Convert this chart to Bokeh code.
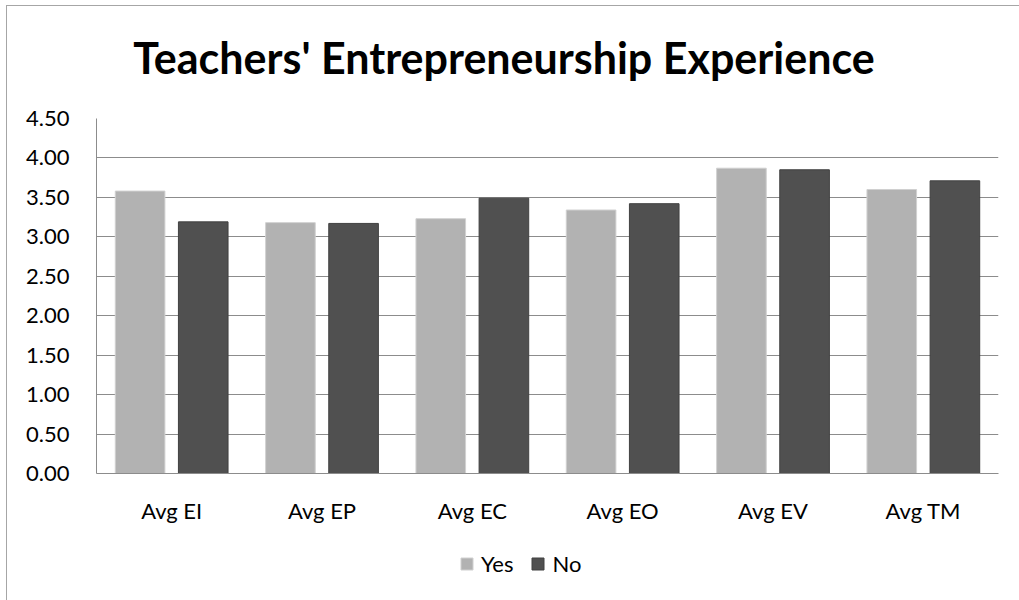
from bokeh.plotting import figure
from bokeh.layouts import column
from bokeh.models import (ColumnDataSource, FactorRange, FixedTicker, NumeralTickFormatter,
                          Legend, LegendItem, Range1d, Label)
from bokeh.transform import dodge
from bokeh.embed import file_html
from bokeh.resources import INLINE

title_text = "Teachers' Entrepreneurship Experience"
categories = ["Avg EI", "Avg EP", "Avg EC", "Avg EO", "Avg EV", "Avg TM"]
yes_values = [3.58, 3.18, 3.23, 3.34, 3.87, 3.60]
no_values = [3.19, 3.17, 3.49, 3.42, 3.85, 3.71]
y_ticks = [0.0, 0.5, 1.0, 1.5, 2.0, 2.5, 3.0, 3.5, 4.0, 4.5]
series_names = ["Yes", "No"]

source = ColumnDataSource(dict(cat=categories, yes=yes_values, no=no_values))

FONT = "Lato"
YES_FILL, YES_LINE = "#b2b2b2", "#d0d0d0"
NO_FILL, NO_LINE = "#505050", "#404040"
W = 1012  # layout is shifted by a 7px left / 6px top margin (chart border)


def bare(fig):
    fig.xgrid.grid_line_color = None
    fig.ygrid.grid_line_color = None
    fig.outline_line_color = None
    fig.border_fill_color = "white"
    fig.background_fill_color = "white"


# ---- title strip (pixel-like coordinate space) ----
tt = figure(width=W, height=94, x_range=Range1d(96, 998), y_range=Range1d(100, 6),
            output_backend="svg", toolbar_location=None,
            min_border_left=89, min_border_right=21, min_border_top=0, min_border_bottom=0,
            x_axis_location=None, y_axis_location=None)
bare(tt)
tt.add_layout(Label(x=503.5, y=57, text=title_text, text_align="center", text_baseline="alphabetic",
                    text_font=FONT, text_font_style="bold", text_font_size="43px", text_color="#000000"))

# ---- main chart ----
p = figure(
    x_range=FactorRange(*categories), y_range=(0, 4.5),
    width=W, height=440, output_backend="svg", toolbar_location=None,
    min_border_left=89, min_border_right=21, min_border_top=18, min_border_bottom=67,
)

p.vbar(x=dodge("cat", -0.21, range=p.x_range), top="yes", width=0.33, source=source,
       fill_color=YES_FILL, line_color=YES_LINE, line_width=1)
p.vbar(x=dodge("cat", 0.21, range=p.x_range), top="no", width=0.33, source=source,
       fill_color=NO_FILL, line_color=NO_LINE, line_width=1)

p.outline_line_color = None
p.background_fill_color = "white"
p.border_fill_color = "white"
p.xgrid.grid_line_color = None
p.ygrid.grid_line_color = "#8c8c8c"
p.ygrid.grid_line_width = 1

p.yaxis.ticker = FixedTicker(ticks=y_ticks)
p.yaxis.formatter = NumeralTickFormatter(format="0.00")
for ax in (p.xaxis, p.yaxis):
    ax.axis_line_color = "#8c8c8c"
    ax.major_tick_line_color = None
    ax.minor_tick_line_color = None
    ax.major_label_text_font = FONT
    ax.major_label_text_font_size = "22px"
    ax.major_label_text_color = "#000000"
p.yaxis.major_label_standoff = 21
p.xaxis.major_label_standoff = 17

# ---- legend strip (same series drawn out of view, so only the legend shows) ----
lg = figure(
    x_range=FactorRange(*categories), y_range=Range1d(10, 11),
    width=W, height=60, output_backend="svg", toolbar_location=None,
    min_border_left=89, min_border_right=21, min_border_top=0, min_border_bottom=0,
    x_axis_location=None, y_axis_location=None,
)
bare(lg)
ry = lg.vbar(x=dodge("cat", -0.21, range=lg.x_range), top="yes", width=0.33, source=source,
             fill_color=YES_FILL, line_color=YES_LINE)
rn = lg.vbar(x=dodge("cat", 0.21, range=lg.x_range), top="no", width=0.33, source=source,
             fill_color=NO_FILL, line_color=NO_LINE)
legend = Legend(items=[LegendItem(label=series_names[0], renderers=[ry]),
                       LegendItem(label=series_names[1], renderers=[rn])],
                orientation="horizontal", location=(363, 23), border_line_color=None,
                background_fill_alpha=0, label_text_font=FONT, label_text_font_size="22px",
                label_text_color="#000000",
                glyph_width=15, glyph_height=15, label_standoff=7, spacing=17, padding=0, margin=0)
lg.add_layout(legend, "center")

layout = column(tt, p, lg, spacing=0)
layout.margin = (6, 0, 0, 7)
layout.styles = {"outline": "1px solid #a6a6a6", "outline-offset": "0px"}

open("out.html", "w").write(file_html(layout, INLINE))
